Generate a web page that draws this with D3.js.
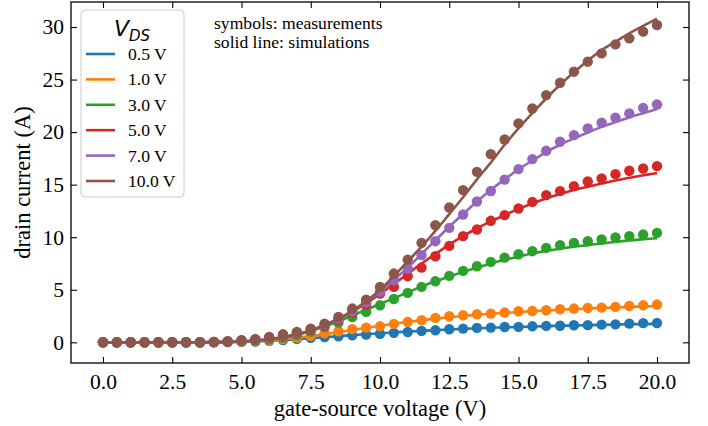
<!DOCTYPE html>
<html><head><meta charset="utf-8">
<script src="https://cdn.jsdelivr.net/npm/d3@7"></script>
<style>body{margin:0;background:#fff}svg{display:block}</style>
</head><body>
<script>
const vgs = d3.range(0, 20.001, 0.5);
const seriesNames = ["0.5 V","1.0 V","3.0 V","5.0 V","7.0 V","10.0 V"];
const colors = ["#1f77b4","#ff7f0e","#2ca02c","#d62728","#9467bd","#8c564b"];
const xTicks = [0,2.5,5,7.5,10,12.5,15,17.5,20];
const yTicks = [0,5,10,15,20,25,30];
const z8 = [0,0,0,0,0,0,0,0];

const meas05 = z8.concat([0.01,0.02,0.04,0.08,0.14,0.22,0.32,0.42,0.5,0.58,0.66,0.74,0.8,0.9,0.98,1.08,1.14,1.24,1.30,1.37,1.40,1.46,1.47,1.52,1.56,1.57,1.62,1.63,1.68,1.71,1.78,1.82,1.84]);
const meas10 = z8.concat([0.01,0.03,0.06,0.12,0.2,0.3,0.45,0.62,0.85,1.05,1.25,1.4,1.52,1.75,1.94,2.10,2.32,2.48,2.57,2.67,2.73,2.83,2.95,2.98,3.05,3.14,3.21,3.27,3.30,3.37,3.46,3.52,3.59]);
const meas30 = z8.concat([0.02,0.05,0.1,0.17,0.28,0.45,0.68,1.02,1.46,1.87,2.41,2.89,3.52,4.12,4.70,5.27,5.81,6.32,6.79,7.24,7.65,8.06,8.38,8.67,8.98,9.24,9.46,9.62,9.78,9.97,10.10,10.25,10.41]);
const meas50 = z8.concat([0.03,0.08,0.16,0.27,0.43,0.65,0.88,1.2,1.6,2.15,2.85,3.6,4.63,5.27,6.29,7.11,8.19,9.17,10.10,10.73,11.56,12.10,12.73,13.36,14.0,14.38,14.86,15.3,15.59,16.0,16.32,16.54,16.76]);
const meas70 = z8.concat([0.03,0.08,0.17,0.28,0.45,0.68,0.92,1.25,1.7,2.25,2.95,3.8,4.8,5.90,7.02,8.29,9.62,10.89,12.16,13.4,14.4,15.48,16.48,17.43,18.22,19.08,19.71,20.35,20.89,21.37,21.78,22.31,22.63]);
const meas100 = z8.concat([0.03,0.1,0.19,0.29,0.51,0.76,0.98,1.30,1.78,2.41,3.21,4.06,5.27,6.54,7.87,9.46,11.14,12.83,14.48,16.22,17.90,19.30,20.83,22.25,23.52,24.70,25.75,26.70,27.49,28.35,28.92,29.56,30.19]);

const sim05 = z8.concat([0.01,0.02,0.04,0.08,0.14,0.21,0.3,0.39,0.48,0.58,0.68,0.77,0.86,0.94,1.02,1.09,1.16,1.22,1.28,1.33,1.38,1.42,1.46,1.5,1.54,1.57,1.6,1.63,1.66,1.69,1.71,1.73,1.75]);
const sim10 = z8.concat([0.01,0.02,0.05,0.11,0.19,0.3,0.44,0.6,0.78,0.97,1.17,1.37,1.57,1.76,1.94,2.1,2.25,2.38,2.5,2.61,2.71,2.8,2.88,2.96,3.03,3.1,3.16,3.22,3.27,3.32,3.37,3.41,3.45]);
const sim30 = z8.concat([0.01,0.03,0.07,0.14,0.25,0.43,0.7,1.05,1.5,2.0,2.55,3.1,3.65,4.2,4.75,5.3,5.8,6.25,6.7,7.1,7.5,7.85,8.15,8.45,8.7,8.9,9.1,9.25,9.4,9.55,9.7,9.8,9.9]);
const sim50 = z8.concat([0.02,0.04,0.08,0.15,0.27,0.45,0.72,1.1,1.6,2.2,2.9,3.7,4.6,5.55,6.5,7.5,8.4,9.3,10.1,10.85,11.5,12.1,12.7,13.2,13.7,14.1,14.5,14.8,15.1,15.4,15.65,15.9,16.1]);
const sim70 = z8.concat([0.02,0.04,0.08,0.16,0.28,0.48,0.75,1.1,1.6,2.2,2.95,3.85,4.85,5.95,7.1,8.4,9.7,11.0,12.2,13.4,14.5,15.5,16.45,17.3,18.1,18.8,19.4,19.95,20.5,20.95,21.4,21.8,22.2]);
const sim100 = z8.concat([0.02,0.04,0.08,0.17,0.3,0.5,0.78,1.15,1.65,2.25,3.0,3.9,5.0,6.3,7.7,9.1,10.6,12.2,13.8,15.5,17.1,18.8,20.35,21.8,23.2,24.5,25.7,26.8,27.8,28.6,29.4,30.1,30.8]);

const measured = [meas05, meas10, meas30, meas50, meas70, meas100];
const simulated = [sim05, sim10, sim30, sim50, sim70, sim100];

const W = 708, H = 426;
const svg = d3.select("body").append("svg").attr("width", W).attr("height", H);
const L = 71, R = 689, T = 2, B = 363;
const x = d3.scaleLinear().domain([-1.155, 21.155]).range([L, R]);
const y = d3.scaleLinear().domain([-1.97, 32.38]).range([B, T]);
const serif = "'Liberation Serif','Times New Roman',serif";

const plot = svg.append("g");
svg.append("clipPath").attr("id","c").append("rect").attr("x",L).attr("y",T).attr("width",R-L).attr("height",B-T);
const line = d3.line().x((d,i)=>x(vgs[i])).y(d=>y(d)).curve(d3.curveMonotoneX);
const dataG = plot.append("g").attr("clip-path","url(#c)");
measured.forEach((ser, k) => {
  const g = dataG.append("g");
  g.selectAll("circle").data(ser).join("circle")
    .attr("cx",(d,i)=>x(vgs[i])).attr("cy",d=>y(d)).attr("r",5.2).attr("fill",colors[k]);
  g.append("path").datum(simulated[k]).attr("d",line).attr("fill","none")
    .attr("stroke",colors[k]).attr("stroke-width",2.6);
});

function styleAxis(g){
  g.select(".domain").remove();
  g.selectAll("line").attr("stroke","#000").attr("stroke-width",1.1);
  g.selectAll("text").attr("font-family",serif).attr("font-size","21.5px").attr("fill","#000");
}
const xAxis = svg.append("g").attr("transform",`translate(0,${B})`)
  .call(d3.axisBottom(x).tickValues(xTicks).tickFormat(d3.format(".1f")).tickSizeInner(-6).tickSizeOuter(0).tickPadding(11));
styleAxis(xAxis);
const xTop = svg.append("g").attr("transform",`translate(0,${T})`)
  .call(d3.axisTop(x).tickValues(xTicks).tickFormat("").tickSizeInner(-6).tickSizeOuter(0));
styleAxis(xTop);
const yAxis = svg.append("g").attr("transform",`translate(${L},0)`)
  .call(d3.axisLeft(y).tickValues(yTicks).tickFormat(d3.format("d")).tickSizeInner(-6).tickSizeOuter(0).tickPadding(7));
styleAxis(yAxis);
const yRight = svg.append("g").attr("transform",`translate(${R},0)`)
  .call(d3.axisRight(y).tickValues(yTicks).tickFormat("").tickSizeInner(-6).tickSizeOuter(0));
styleAxis(yRight);
svg.append("rect").attr("x",L).attr("y",T).attr("width",R-L).attr("height",B-T)
  .attr("fill","none").attr("stroke","#000").attr("stroke-width",1.3);

svg.append("text").attr("x",(L+R)/2).attr("y",416).attr("text-anchor","middle")
  .attr("font-family",serif).attr("font-size","22.5px").text("gate-source voltage (V)");
svg.append("text").attr("transform",`translate(30,${(T+B)/2}) rotate(-90)`).attr("text-anchor","middle")
  .attr("font-family",serif).attr("font-size","22.5px").text("drain current (A)");

const ann = svg.append("text").attr("font-family",serif).attr("font-size","17.6px").attr("fill","#000");
ann.append("tspan").attr("x",214).attr("y",29).text("symbols: measurements");
ann.append("tspan").attr("x",214).attr("y",47.5).text("solid line: simulations");

const lg = svg.append("g");
lg.append("rect").attr("x",81).attr("y",10).attr("width",103).attr("height",187).attr("rx",4)
  .attr("fill","#fff").attr("fill-opacity",0.8).attr("stroke","#ccc").attr("stroke-width",1);
const title = lg.append("text").attr("x",132).attr("y",36).attr("text-anchor","middle")
  .attr("font-family","'DejaVu Sans',sans-serif").attr("font-style","italic");
title.append("tspan").attr("font-size","22px").text("V");
title.append("tspan").attr("font-size","15px").attr("dy",5).text("DS");
seriesNames.forEach((n,k)=>{
  const cy = 54 + k*25.4;
  lg.append("line").attr("x1",86).attr("x2",115).attr("y1",cy).attr("y2",cy)
    .attr("stroke",colors[k]).attr("stroke-width",2.6);
  lg.append("text").attr("x",128).attr("y",cy+6).attr("font-family",serif).attr("font-size","17.6px").text(n);
});
</script>
</body></html>
